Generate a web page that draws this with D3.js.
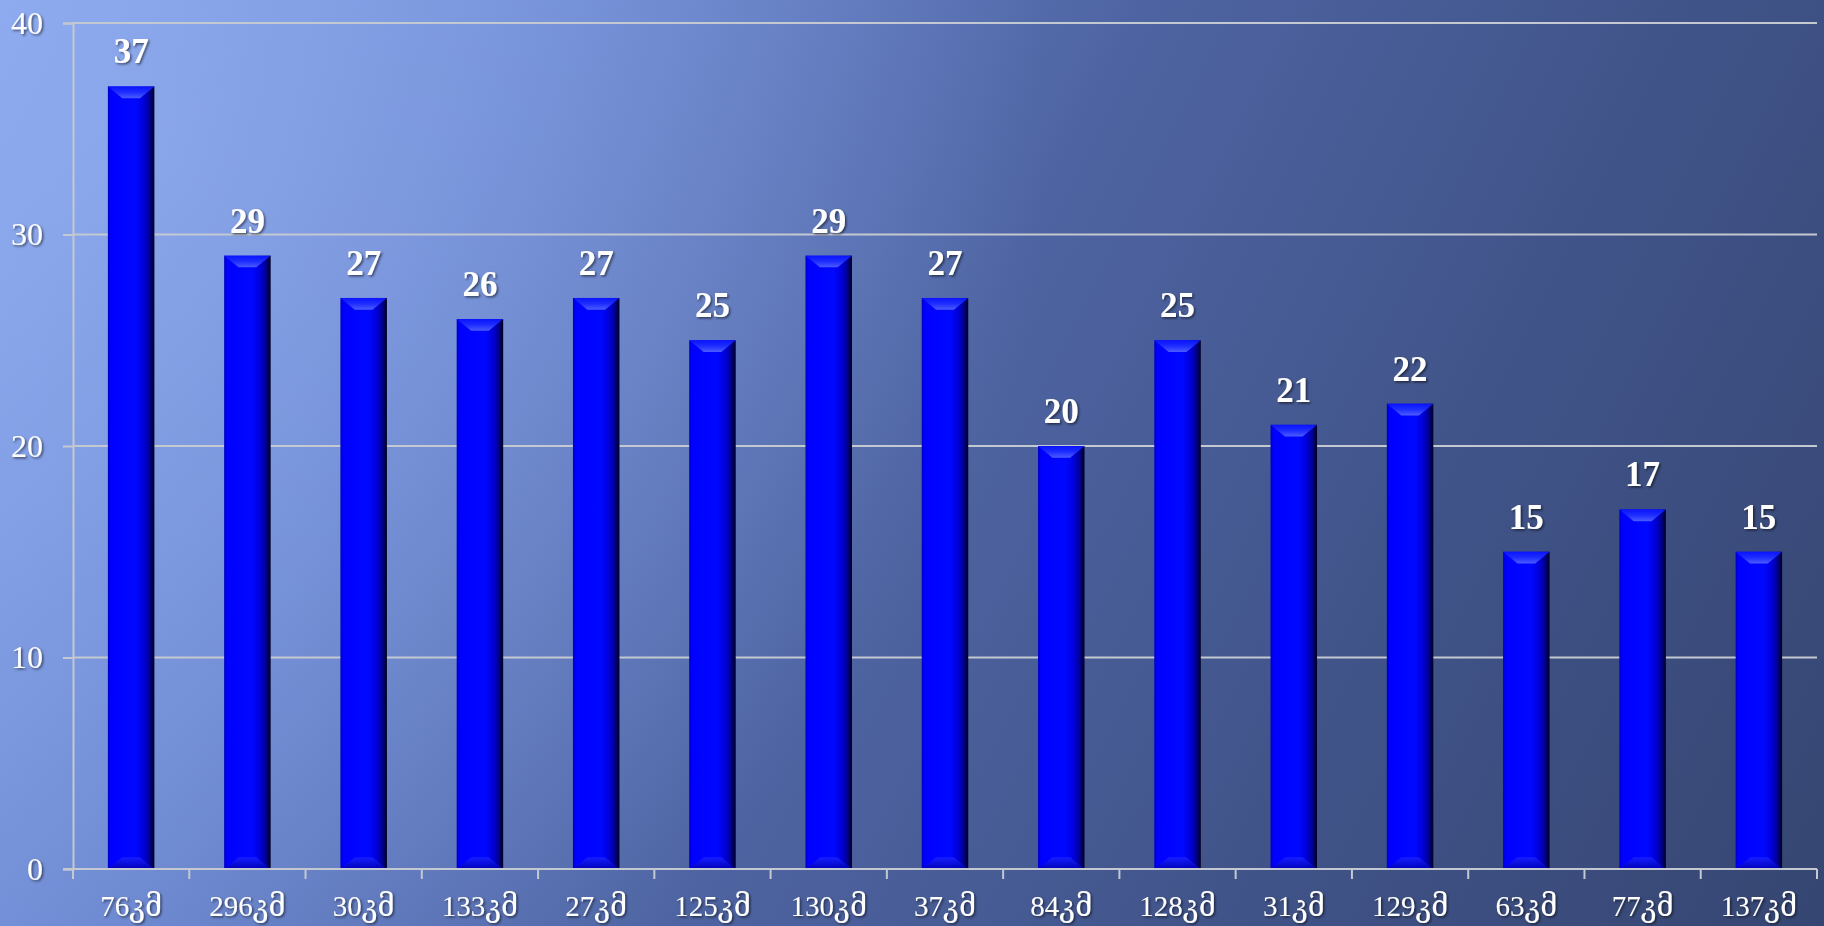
<!DOCTYPE html>
<html><head><meta charset="utf-8">
<script src="https://cdn.jsdelivr.net/npm/d3@7/dist/d3.min.js"></script>
<style>html,body{margin:0;padding:0;overflow:hidden;background:#4a5e98}</style>
</head><body>
<svg id="chart" width="1824" height="926"></svg>
<script>
const categories = ["76კმ","296კმ","30კმ","133კმ","27კმ","125კმ","130კმ","37კმ","84კმ","128კმ","31კმ","129კმ","63კმ","77კმ","137კმ"];
const values = [37,29,27,26,27,25,29,27,20,25,21,22,15,17,15];
const yTicks = [0,10,20,30,40];

const W = 1824, H = 926;
const m = {left:73, right:7, top:23, bottom:57};
const svg = d3.select("#chart");
const defs = svg.append("defs");

// background
const bg = defs.append("linearGradient").attr("id","bg").attr("gradientUnits","userSpaceOnUse")
  .attr("x1",0).attr("y1",0).attr("x2",W).attr("y2",H);
[[0,"#88a6ee"],[0.25,"#6c88d0"],[0.5,"#4e64a2"],[0.75,"#405388"],[1,"#364672"]].forEach(s=>bg.append("stop").attr("offset",s[0]).attr("stop-color",s[1]));
const glow = defs.append("radialGradient").attr("id","glow").attr("gradientUnits","userSpaceOnUse")
  .attr("cx",150).attr("cy",150).attr("r",900);
glow.append("stop").attr("offset",0).attr("stop-color","#9ab4f4").attr("stop-opacity",0.45);
glow.append("stop").attr("offset",1).attr("stop-color","#9ab4f4").attr("stop-opacity",0);
svg.append("rect").attr("width",W).attr("height",H).attr("fill","url(#bg)");
svg.append("rect").attr("width",W).attr("height",H).attr("fill","url(#glow)");

// bar gradient
const bgr = defs.append("linearGradient").attr("id","barg").attr("x1",0).attr("x2",1).attr("y1",0).attr("y2",0);
[[0,"#0000c0"],[0.06,"#0000ff"],[0.6,"#0008ff"],[0.78,"#0000d8"],[0.9,"#000090"],[1,"#00001e"]].forEach(s=>bgr.append("stop").attr("offset",s[0]).attr("stop-color",s[1]));
const topg = defs.append("linearGradient").attr("id","topg").attr("x1",0).attr("x2",0).attr("y1",0).attr("y2",1);
[[0,"#0a14ff"],[0.5,"#2030ff"],[1,"#5060ff"]].forEach(s=>topg.append("stop").attr("offset",s[0]).attr("stop-color",s[1]));
const botg = defs.append("linearGradient").attr("id","botg").attr("x1",0).attr("x2",0).attr("y1",0).attr("y2",1);
[[0,"#1a22ff"],[1,"#0000b0"]].forEach(s=>botg.append("stop").attr("offset",s[0]).attr("stop-color",s[1]));

const sh = defs.append("filter").attr("id","sh").attr("x","-20%").attr("y","-20%").attr("width","140%").attr("height","140%");
sh.append("feDropShadow").attr("dx",1.5).attr("dy",1.5).attr("stdDeviation",1).attr("flood-color","#000").attr("flood-opacity",0.55);

const x = d3.scaleBand().domain(categories).range([m.left, W-m.right]).paddingInner(0.6).paddingOuter(0.3);
const y = d3.scaleLinear().domain([0,40]).range([H-m.bottom, m.top]);

// gridlines
svg.append("g").selectAll("line").data(yTicks.filter(d=>d>0)).join("line")
  .attr("x1",m.left).attr("x2",W-m.right).attr("y1",d=>y(d)).attr("y2",d=>y(d))
  .attr("stroke","#c4c8d0").attr("stroke-width",2);

// y axis
const yAxis = svg.append("g").attr("transform",`translate(${m.left},0)`)
  .call(d3.axisLeft(y).tickValues(yTicks).tickSize(10).tickPadding(20).tickFormat(d3.format("d")));
yAxis.select(".domain").attr("stroke","#c4c8d0").attr("stroke-width",2);
yAxis.selectAll(".tick line").attr("stroke","#c4c8d0").attr("stroke-width",2);
yAxis.selectAll("text").attr("fill","#fff").attr("font-family","'Liberation Serif','DejaVu Serif',serif")
  .attr("font-size",32).attr("filter","url(#sh)");

// bars
const step = x.step();
const g = svg.append("g");
const bw = x.bandwidth();
const bev = 9;
categories.forEach((c,i)=>{
  const v = values[i];
  const x0 = x(c), x1 = x0 + bw, yt = y(v), yb = y(0);
  g.append("rect").attr("x",x0).attr("y",yt).attr("width",bw).attr("height",yb-yt).attr("fill","url(#barg)");
  g.append("path").attr("d",`M${x0},${yt}L${x1},${yt}L${x1-bev*1.6},${yt+bev*1.3}L${x0+bev*1.6},${yt+bev*1.3}Z`).attr("fill","url(#topg)").attr("opacity",0.95);
  g.append("path").attr("d",`M${x0},${yb}L${x1},${yb}L${x1-bev*1.6},${yb-bev*1.3}L${x0+bev*1.6},${yb-bev*1.3}Z`).attr("fill","url(#botg)").attr("opacity",0.85);
  g.append("text").attr("x",x0+bw/2).attr("y",yt-23).attr("text-anchor","middle")
    .attr("fill","#fff").attr("font-family","'Liberation Serif','DejaVu Serif',serif").attr("font-weight","bold")
    .attr("font-size",35).attr("filter","url(#sh)").text(v);
});

// x axis
const xAxisG = svg.append("g").attr("transform",`translate(0,${y(0)})`);
xAxisG.append("line").attr("x1",m.left-10).attr("x2",W-m.right).attr("y1",0).attr("y2",0).attr("stroke","#c4c8d0").attr("stroke-width",2);
const bounds = d3.range(categories.length+1).map(k=>m.left + k*step);
xAxisG.selectAll("line.t").data(bounds).join("line").attr("class","t")
  .attr("x1",d=>d).attr("x2",d=>d).attr("y1",0).attr("y2",10).attr("stroke","#c4c8d0").attr("stroke-width",2);
xAxisG.selectAll("text").data(categories).join("text")
  .attr("x",d=>x(d)+bw/2).attr("y",47).attr("text-anchor","middle")
  .attr("fill","#fff").attr("font-family","'Liberation Serif','DejaVu Serif',serif").attr("font-size",29)
  .attr("filter","url(#sh)").text(d=>d);
</script>
</body></html>
